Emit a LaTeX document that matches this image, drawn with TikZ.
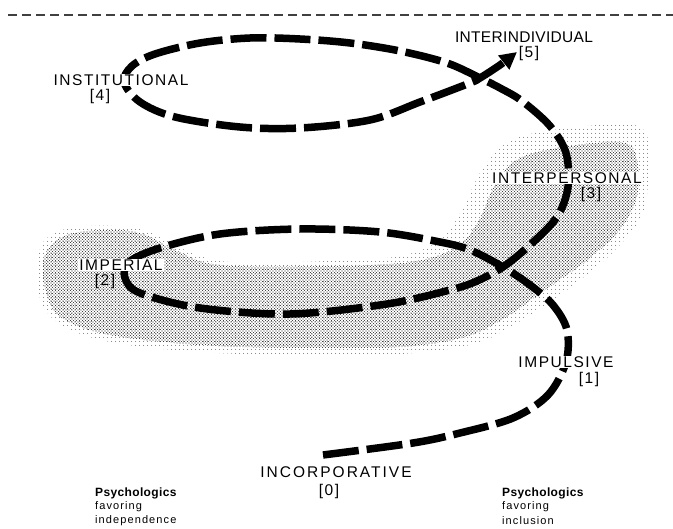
\documentclass[tikz,border=0pt]{standalone}
\usepackage{fontspec}
\setmainfont{Liberation Sans}
\newfontfamily\stagefont[LetterSpace=10]{Liberation Sans}
\newfontfamily\stagefontnarrow[LetterSpace=2]{Liberation Sans}
\newfontfamily\stagefontwide[LetterSpace=13]{Liberation Sans}
\newfontfamily\notefont[LetterSpace=10]{Liberation Sans}
\newfontfamily\headfont[LetterSpace=3]{Liberation Sans}
\usetikzlibrary{arrows.meta,patterns.meta}

% fine dot screen for the shaded band
\tikzdeclarepattern{
  name=stipple,
  type=uncolored,
  bounding box={(-1.5pt,-1.5pt) and (1.5pt,1.5pt)},
  tile size={(3pt,3pt)},
  code={
    \fill (0pt,0pt) circle (0.55pt);
    \fill (1.5pt,1.5pt) circle (0.45pt);
    \fill (-1.5pt,-1.5pt) circle (0.45pt);
    \fill (1.5pt,-1.5pt) circle (0.45pt);
    \fill (-1.5pt,1.5pt) circle (0.45pt);
  }
}
\tikzdeclarepattern{
  name=sparsestipple,
  type=uncolored,
  bounding box={(-2pt,-2pt) and (2pt,2pt)},
  tile size={(4pt,4pt)},
  code={
    \fill (0pt,0pt) circle (0.5pt);
  }
}

\tikzset{
  stage/.style={font=\stagefont\fontsize{15.5}{15.5}\selectfont, inner sep=0pt},
  stagenarrow/.style={font=\stagefontnarrow\fontsize{15.5}{15.5}\selectfont, inner sep=0pt},
  stagewide/.style={font=\stagefontwide\fontsize{15.5}{15.5}\selectfont, inner sep=0pt},
  cut/.style={fill=white, inner sep=1pt},
  notehead/.style={font=\headfont\bfseries\fontsize{12}{12}\selectfont, inner sep=0pt, anchor=west},
  noteline/.style={font=\notefont\fontsize{11}{11}\selectfont, inner sep=0pt, anchor=west},
  spiral/.style={line width=7.5pt, dash pattern=on 36pt off 8pt, line join=round},
  rule/.style={line width=1.8pt, black!75, dash pattern=on 9pt off 5pt}
}

\begin{document}
\begin{tikzpicture}[x=1pt,y=-1pt]
\useasboundingbox (0,0) rectangle (673,529);

% dashed rule along the top
\coordinate (ruleL) at (8,15);
\coordinate (ruleR) at (673,15);
\draw[rule] (ruleL) -- (ruleR);

% shaded band: light halo
\fill[pattern=sparsestipple, pattern color=black!80]
  plot[smooth cycle, tension=0.6] coordinates {
    (38,262) (45,240) (70,228) (115,226) (150,232) (185,250) (230,262)
    (330,261) (400,256) (440,240) (462,210) (482,170) (512,140) (570,128)
    (640,127) (648,170) (642,215) (615,250) (580,280) (545,305) (505,330)
    (470,345) (400,354) (300,355) (200,352) (110,342) (60,324) (40,298)};
% shaded band: denser core, curving up to the right
\fill[pattern=stipple, pattern color=black!85]
  plot[smooth cycle, tension=0.6] coordinates {
    (44,258) (62,237) (100,230) (140,233) (175,250) (220,265) (330,266)
    (410,262) (455,248) (478,222) (495,185) (520,158) (570,146) (625,143)
    (638,165) (636,200) (618,232) (585,262) (545,290) (505,318) (465,337)
    (400,347) (300,348) (200,345) (110,335) (62,318) (46,292)};

% the developmental spiral
\coordinate (start) at (323,455);
\coordinate (tip) at (517,52);
\draw[spiral, -{Triangle[length=17pt,width=17pt]}]
  plot[smooth, tension=0.55] coordinates {
    (start) (413,443) (460,433) (513,418) (548,395) (566,362) (567,330)
    (553,305) (530,285) (503,267) (470,250) (440,242) (380,232) (300,229)
    (220,234) (160,248) (129,262) (125,278) (140,293) (200,308) (290,314)
    (387,304) (450,290) (477,281) (503,267) (530,245) (557,217) (568,187)
    (566,153) (550,126) (522,101) (500,88) (480,78) (447,63) (400,51)
    (350,43) (300,39) (250,38) (200,43) (155,54) (132,66) (124,82)
    (140,102) (175,117) (240,127) (300,128) (370,120) (420,102) (470,83)
    (480,78) (500,65) (tip)};

% stage labels
\node[stagenarrow, cut] (s5) at (524,37) {INTERINDIVIDUAL};
\node[stage] (n5) at (529,53) {[5]};
\node[stage, cut] (s4) at (121,80) {INSTITUTIONAL};
\node[stage] (n4) at (100,96) {[4]};
\node[stage, cut] (s3) at (567,178) {INTERPERSONAL};
\node[stage] (n3) at (591,194) {[3]};
\node[stage, cut] (s2) at (121,265) {IMPERIAL};
\node[stage] (n2) at (105,281) {[2]};
\node[stage, cut] (s1) at (566,362) {IMPULSIVE};
\node[stage] (n1) at (589,379) {[1]};
\node[stagewide] (s0) at (336,472) {INCORPORATIVE};
\node[stage] (n0) at (329,491) {[0]};

% notes at the foot
\node[notehead] (hl) at (95,493) {Psychologics};
\node[noteline] (fl) at (95,507) {favoring};
\node[noteline] (il) at (95,521) {independence};
\node[notehead] (hr) at (502,493) {Psychologics};
\node[noteline] (fr) at (502,507) {favoring};
\node[noteline] (ir) at (502,521) {inclusion};
\end{tikzpicture}
\end{document}
